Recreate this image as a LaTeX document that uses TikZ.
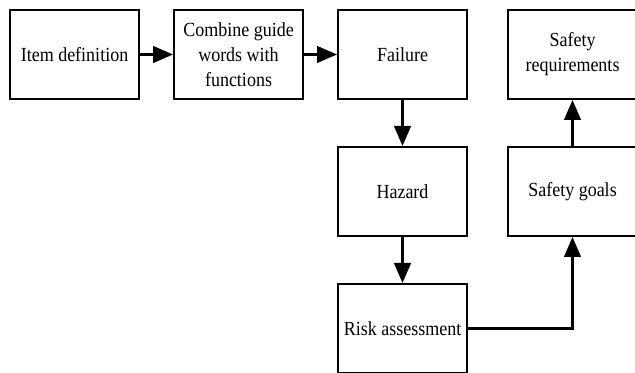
\documentclass[tikz,border=0pt]{standalone}
\usepackage{fontspec}
\setmainfont[FakeStretch=0.9]{Liberation Serif}
\usetikzlibrary{positioning,arrows.meta}
\begin{document}
\begin{tikzpicture}[node distance={34.5pt and 24.75pt}, main/.style = {draw, line width=1.8pt, minimum width=96.45pt, minimum height=66.45pt, inner sep=1pt, align=center, font=\fontsize{15}{18.75}\selectfont}, arr/.style = {line width=1.8pt, -{Triangle[length=15pt, width=12.5pt]}}] 
\useasboundingbox (0,0) rectangle (476.25pt,-279.75pt);
\node[main] (1) at (55.875pt,-40.875pt) {Item definition}; 
\node[main] (2) [right=of 1] {Combine guide\\words with\\functions}; 
\node[main] (3) [right=of 2] {Failure}; 
\node[main] (4) [below=of 3] {Hazard}; 
\node[main] (5) [below=of 4] {Risk assessment}; 
\node[main] (6) [right=29.25pt of 4] {Safety goals}; 
\node[main] (7) [above=of 6] {Safety\\requirements}; 

\draw[arr] (1) -- (2); 
\draw[arr] (2) -- (3); 
\draw[arr] (3) -- (4); 
\draw[arr] (4) -- (5); 
\draw[arr] (5.east) -| (6.south); 
\draw[arr] (6) -- (7); 

\end{tikzpicture}
\end{document}
